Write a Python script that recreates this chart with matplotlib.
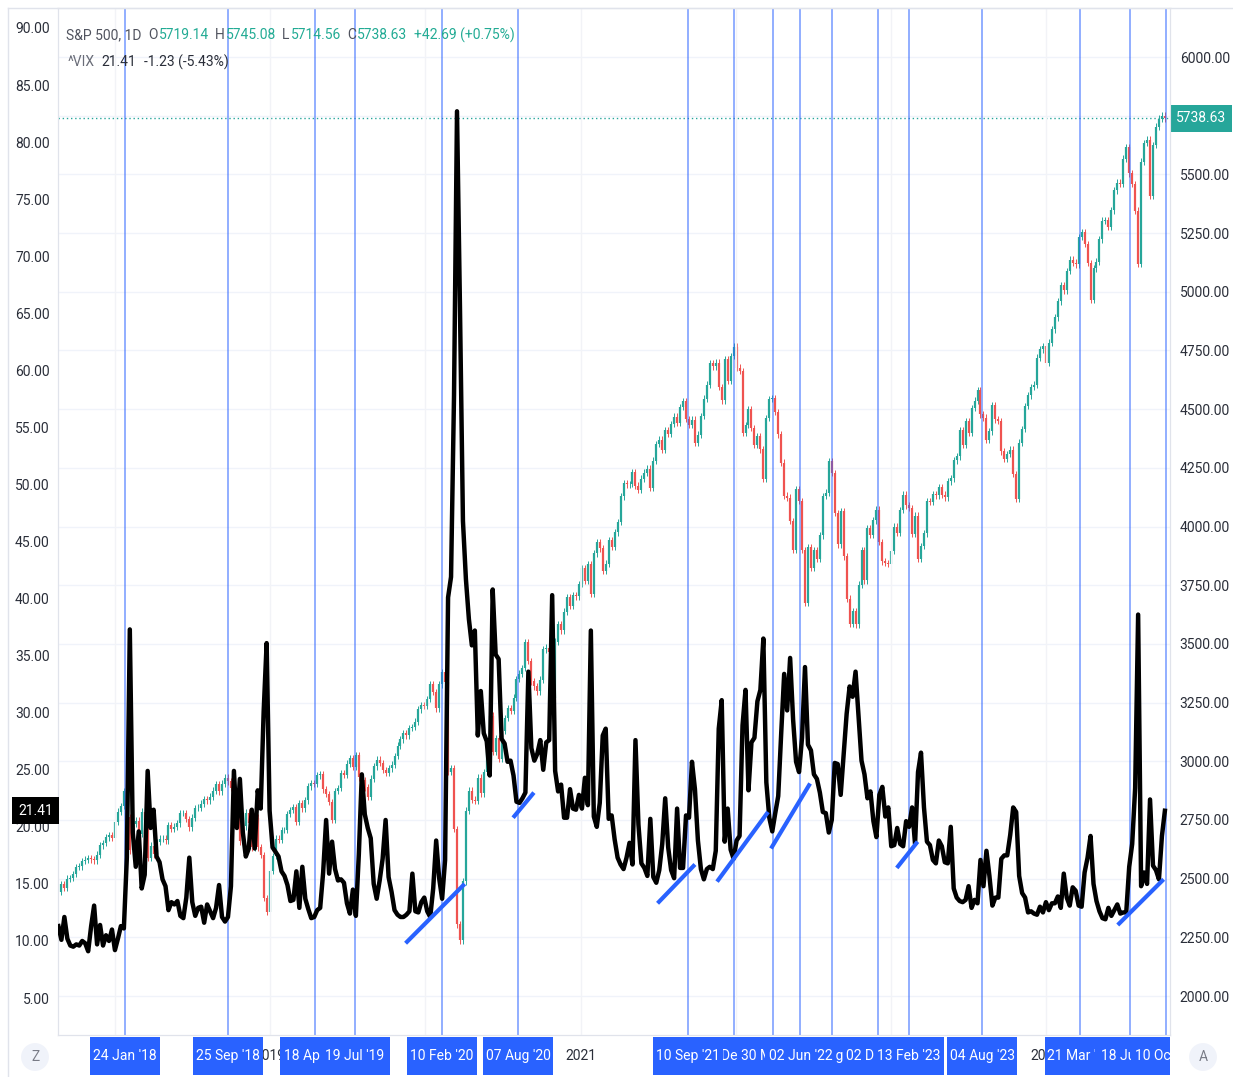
import numpy as np
import pandas as pd
import matplotlib
matplotlib.use('Agg')
import matplotlib.pyplot as plt
import matplotlib.dates as mdates
import matplotlib.transforms as mtransforms
from matplotlib.patches import Rectangle
from matplotlib.lines import Line2D

plt.rcParams['font.family'] = ['Roboto', 'DejaVu Sans']
FS = 10

# ---- weekly values (week starting Monday) ----
vix_2017 = [11.3, 10.1, 12.1, 10.2, 9.6, 9.5, 9.7, 9.6, 10.0, 9.8, 9.1, 11.3, 13.1, 9.7, 11.4,
            9.6, 10.5, 10.0, 11.0]
vix_2018 = [9.2, 10.2, 11.3, 11.1, 17.3, 37.3, 19.5, 16.5, 19.6, 14.6, 15.8, 24.9, 19.9,
            21.5, 17.4, 16.9, 15.4, 14.8, 12.7, 13.4, 13.2, 13.5, 12.2, 12.0, 13.8, 17.3,
            13.4, 12.2, 12.9, 13.0, 11.6, 13.2, 12.6, 12.0, 12.9, 14.9, 12.1, 11.7, 12.1,
            14.8, 24.9, 19.9, 24.2, 19.5, 17.4, 18.1, 21.5, 18.1, 23.2, 21.6, 30.1, 36.1, 21.4]
vix_2019 = [18.2, 17.8, 17.4, 16.1, 15.7, 14.9, 13.5, 13.6, 16.1, 12.9, 16.5, 13.7,
            12.8, 12.0, 12.1, 12.7, 12.9, 16.0, 20.6, 15.9, 18.7, 16.3, 15.3, 15.4, 15.1,
            13.3, 12.4, 14.5, 12.2, 17.6, 24.6, 21.1, 19.9, 19.0, 15.0, 13.7, 15.3, 17.2,
            20.6, 15.6, 14.3, 12.7, 12.3, 12.1, 12.1, 12.3, 12.6, 15.9, 12.6, 12.5, 13.4, 13.8]
vix_2020 = [12.6, 12.1, 14.6, 18.8, 15.5, 13.7, 17.1, 40.1, 41.9, 57.8, 82.7, 65.5, 46.8,
            41.7, 38.2, 35.9, 37.2, 28.0, 31.9, 28.2, 27.5, 24.5, 40.8, 35.1, 34.7, 27.7,
            27.3, 25.7, 25.8, 24.5, 22.2, 22.1, 22.5, 23.0, 33.6, 26.9, 25.8, 26.4, 27.6,
            25.0, 27.4, 27.6, 40.3, 24.9, 23.1, 23.7, 20.8, 20.8, 23.3, 21.6, 21.5, 22.8]
vix_2021 = [21.6, 24.3, 21.9, 37.2, 20.9, 20.0, 22.1, 28.0, 28.6, 20.7, 21.0, 18.9, 17.3,
            16.7, 16.3, 17.3, 18.6, 16.7, 27.6, 20.2, 16.8, 16.4, 15.7, 20.7, 15.6, 15.1,
            16.2, 18.5, 22.5, 18.2, 16.2, 15.5, 21.6, 16.4, 16.4, 21.0, 20.8, 25.7, 23.3,
            18.8, 16.3, 15.4, 16.3, 16.5, 16.3, 17.9, 28.6, 31.1, 18.7, 21.6, 18.0, 17.2]
vix_2022 = [18.8, 19.2, 28.9, 32.0, 23.2, 27.4, 27.8, 31.0, 32.0, 36.5, 23.9, 20.8, 19.6,
            21.2, 22.7, 28.2, 33.4, 30.2, 34.8, 29.4, 25.7, 24.8, 27.8, 34.0, 27.2, 26.7,
            24.6, 24.2, 23.0, 21.3, 21.2, 19.5, 20.6, 25.6, 25.5, 22.8, 26.3, 29.9, 32.3,
            31.4, 33.6, 29.7, 25.8, 24.6, 22.5, 23.1, 20.5, 19.1, 22.8, 23.5, 20.9, 21.7]
vix_2023 = [18.3, 18.4, 19.9, 18.5, 18.3, 20.5, 20.0, 21.7, 18.5, 24.8, 26.5, 21.7, 18.7,
            18.4, 17.1, 16.8, 18.8, 18.3, 16.9, 16.8, 20.0, 14.6, 13.8, 13.5, 13.4, 13.6,
            14.8, 12.9, 13.6, 13.3, 17.1, 14.8, 17.9, 15.7, 13.1, 13.8, 13.8, 17.2, 17.5,
            17.5, 19.3, 21.7, 21.3, 15.7, 14.2, 13.8, 12.5, 12.6, 12.4, 12.3, 13.0, 12.5]
vix_2024 = [13.4, 12.7, 13.3, 13.3, 13.9, 12.9, 15.9, 13.8, 13.1, 14.7, 14.4, 13.1, 13.0,
            16.0, 17.3, 19.2, 15.0, 13.5, 12.6, 12.0, 11.9, 12.9, 12.2, 12.7, 13.2, 12.4,
            12.5, 12.5, 16.5, 18.5, 23.4, 38.6, 14.8, 16.0, 15.0, 22.4, 16.6, 16.2, 15.4,
            19.2, 21.41]

spx_2017 = [2443, 2477, 2461, 2500, 2502, 2519, 2549, 2553, 2575, 2581, 2587, 2582, 2578,
            2602, 2642, 2652, 2676, 2684, 2674]
spx_2018 = [2743, 2786, 2810, 2873, 2762, 2620, 2732, 2747, 2691, 2786, 2752, 2588, 2641,
            2604, 2656, 2670, 2670, 2663, 2728, 2713, 2721, 2735, 2779, 2780, 2755, 2718,
            2760, 2801, 2802, 2819, 2840, 2833, 2850, 2875, 2902, 2872, 2905, 2930, 2914,
            2886, 2767, 2768, 2659, 2723, 2781, 2736, 2633, 2760, 2633, 2600, 2417, 2360, 2532]
spx_2019 = [2596, 2671, 2665, 2707, 2708, 2776, 2793, 2804, 2743, 2822, 2800, 2834,
            2893, 2907, 2905, 2940, 2946, 2881, 2860, 2826, 2752, 2873, 2887, 2950, 2942,
            2990, 3014, 2977, 3026, 2932, 2919, 2889, 2847, 2926, 2979, 3007, 2992, 2962,
            2952, 2970, 2986, 3023, 3067, 3093, 3120, 3110, 3141, 3146, 3169, 3221, 3240, 3235]
spx_2020 = [3265, 3330, 3295, 3226, 3328, 3380, 3338, 2954, 2972, 2711, 2305, 2237, 2489,
            2790, 2875, 2837, 2831, 2930, 2864, 2955, 3044, 3194, 3041, 3098, 3009, 3130,
            3185, 3225, 3216, 3271, 3351, 3373, 3397, 3508, 3427, 3341, 3319, 3298, 3348,
            3477, 3484, 3465, 3270, 3510, 3585, 3558, 3638, 3699, 3663, 3709, 3703, 3756]
spx_2021 = [3824, 3768, 3841, 3714, 3886, 3934, 3907, 3811, 3842, 3943, 3913, 3975, 4020,
            4129, 4185, 4180, 4181, 4233, 4174, 4156, 4204, 4230, 4247, 4166, 4281, 4352,
            4370, 4327, 4412, 4395, 4437, 4468, 4442, 4509, 4535, 4459, 4433, 4455, 4357,
            4391, 4471, 4545, 4605, 4697, 4683, 4698, 4595, 4538, 4712, 4620, 4726, 4766]
spx_2022 = [4677, 4663, 4398, 4432, 4501, 4419, 4349, 4385, 4329, 4204, 4463, 4543, 4546,
            4488, 4393, 4272, 4132, 4123, 4023, 3901, 4158, 4109, 3901, 3675, 3912, 3825,
            3899, 3863, 3962, 4130, 4145, 4280, 4228, 4058, 3924, 4067, 3873, 3693, 3586,
            3639, 3583, 3753, 3901, 3771, 3993, 3965, 4026, 4072, 3934, 3852, 3845, 3840]
spx_2023 = [3895, 3999, 3973, 4071, 4136, 4090, 4079, 3970, 4046, 3862, 3917, 3971, 4109,
            4105, 4138, 4133, 4169, 4136, 4124, 4192, 4205, 4282, 4299, 4410, 4348, 4450,
            4399, 4505, 4536, 4582, 4478, 4464, 4370, 4406, 4516, 4457, 4450, 4320, 4288,
            4309, 4328, 4224, 4117, 4358, 4415, 4514, 4559, 4595, 4604, 4719, 4755, 4770]
spx_2024 = [4697, 4784, 4840, 4891, 4959, 5027, 5006, 5089, 5137, 5124, 5117, 5234, 5254,
            5204, 5123, 4967, 5100, 5128, 5223, 5303, 5305, 5278, 5347, 5432, 5465, 5460,
            5567, 5615, 5505, 5459, 5346, 5120, 5554, 5634, 5648, 5408, 5626, 5703, 5738,
            5751, 5738.63]

vix = vix_2017 + vix_2018 + vix_2019 + vix_2020 + vix_2021 + vix_2022 + vix_2023 + vix_2024
spx = spx_2017 + spx_2018 + spx_2019 + spx_2020 + spx_2021 + spx_2022 + spx_2023 + spx_2024
assert len(vix) == len(spx)
dates = pd.date_range('2017-08-21', periods=len(vix), freq='7D')

# marked dates (vertical lines + labels)
mark_dates = ['2018-01-24', '2018-09-25', '2019-04-18', '2019-07-19', '2020-02-10',
              '2020-08-07', '2021-09-10', '2021-12-29', '2022-03-30', '2022-06-02',
              '2022-08-16', '2022-12-02', '2023-02-13', '2023-08-04', '2024-03-21',
              '2024-07-18', '2024-10-10']
mark_labels = ["24 Jan '18", "25 Sep '18", "18 Apr '19", "19 Jul '19", "10 Feb '20",
               "07 Aug '20", "10 Sep '21", "29 Dec '21", "30 Mar '22", "02 Jun '22",
               "16 Aug '22", "02 Dec '22", "13 Feb '23", "04 Aug '23", "21 Mar '24",
               "18 Jul '24", "10 Oct '24"]
mark_layer = [1, 1, 1, 2, 1, 1, 2, 1, 3, 5, 4, 6, 7, 8, 1, 2, 3]

# blue trend segments on VIX lows
trend_d0 = ['2019-11-16', '2020-07-26', '2021-07-01', '2021-11-18', '2022-03-25',
            '2023-01-15', '2024-06-18']
trend_v0 = [9.8, 20.8, 13.3, 15.2, 18.1, 16.4, 11.4]
trend_d1 = ['2020-04-03', '2020-09-13', '2021-09-27', '2022-03-18', '2022-06-25',
            '2023-03-05', '2024-10-04']
trend_v1 = [15.0, 23.0, 16.7, 21.3, 23.8, 18.7, 15.4]

years = [2018, 2019, 2020, 2021, 2022, 2023, 2024]
year_labels_shown = [2019, 2021, 2024]   # the others sit fully under the date boxes

UP, DN = '#26a69a', '#ef5350'
BLUE = '#2962ff'
TXT = '#2a2e39'
GREY = '#50535e'
TEAL = '#22ab94'

W, H = 1233, 1077
fig = plt.figure(figsize=(W / 100, H / 100), dpi=100)


def px(x0, y0, x1, y1):
    return [x0 / W, 1 - y1 / H, (x1 - x0) / W, (y1 - y0) / H]


ax = fig.add_axes(px(58, 8, 1170, 1035))
ax2 = ax.twinx()
ax.set_zorder(ax2.get_zorder() + 1)
ax.patch.set_visible(False)

xmin, xmax = pd.Timestamp('2017-08-20'), pd.Timestamp('2024-10-19')
ax.set_xlim(xmin, xmax)
ax.set_ylim(1.76, 91.75)
ax2.set_ylim(1834, 6209)

# S&P candles (open = previous close)
close = np.array(spx, dtype=float)
opn = np.r_[close[0], close[:-1]]
col = np.where(close >= opn, UP, DN)
lo = np.minimum(opn, close)
hi = np.maximum(opn, close)
ax2.vlines(dates, lo - 14, hi + 14, colors=col, lw=0.7, zorder=2)
ax2.vlines(dates, lo, hi, colors=col, lw=1.6, zorder=2)
ax2.axhline(spx[-1], color=UP, ls=(0, (1, 2)), lw=1.0, zorder=1)

# vertical markers, VIX, trend segments
for d in mark_dates:
    ax.axvline(pd.Timestamp(d), color=BLUE, alpha=0.55, lw=1.3, zorder=2)
ax.plot(dates, vix, color='black', lw=3.2, solid_joinstyle='round', zorder=4)
for d0, v0, d1, v1 in zip(trend_d0, trend_v0, trend_d1, trend_v1):
    ax.plot([pd.Timestamp(d0), pd.Timestamp(d1)], [v0, v1], color=BLUE, lw=3.0,
            solid_capstyle='butt', zorder=5)

# axes styling
ax.set_yticks(np.arange(5, 91, 5))
ax.set_yticklabels([f'{v:.2f}' for v in np.arange(5, 91, 5)])
ax.tick_params(axis='y', length=0, pad=6, labelsize=FS, colors=TXT)
spx_ticks = np.arange(2000, 6001, 250)
ax2.set_yticks(spx_ticks)
# the 5750 label sits under the last-price tag in the reference
ax2.set_yticklabels(['' if v == 5750 else f'{v:.2f}' for v in spx_ticks])
ax2.tick_params(axis='y', length=0, pad=7, labelsize=FS, colors=TXT)
ax.set_xticks([pd.Timestamp(f'{y}-01-01') for y in years])
ax.tick_params(axis='x', length=0, labelbottom=False)
ax.grid(axis='x', color='#f2f3f7', lw=1)
ax2.grid(axis='y', color='#f0f3fa', lw=1)
for a in (ax, ax2):
    for s in a.spines.values():
        s.set_color('#e0e3eb')

# last value tags
ax.text(-5 / 1112, vix[-1], f'{vix[-1]:.2f}',
        transform=mtransforms.blended_transform_factory(ax.transAxes, ax.transData),
        ha='right', va='center', color='white', fontsize=FS,
        bbox=dict(boxstyle='square,pad=0.45', fc='black', ec='none'))
ax2.text(1 + 6 / 1112, spx[-1], f'{spx[-1]:.2f}',
         transform=mtransforms.blended_transform_factory(ax2.transAxes, ax2.transData),
         ha='left', va='center', color='white', fontsize=FS,
         bbox=dict(boxstyle='square,pad=0.45', fc=UP, ec='none'))


# header legend, pieces chained left to right
def chain(x, y, pieces):
    prev = fig.text(x / W, 1 - y / H, pieces[0][0], color=pieces[0][1], fontsize=FS,
                    ha='left', va='center')
    for s, c, gap in pieces[1:]:
        prev = ax.annotate(s, xy=(1, 0.5), xycoords=prev, xytext=(gap, 0),
                           textcoords='offset pixels', color=c, fontsize=FS,
                           ha='left', va='center', annotation_clip=False, zorder=10)


chain(66, 35, [('S&P 500, 1D', GREY), ('O', GREY, 7), ('5719.14', TEAL, 1),
               ('H', GREY, 6), ('5745.08', TEAL, 1), ('L', GREY, 6), ('5714.56', TEAL, 1),
               ('C', GREY, 6), ('5738.63', TEAL, 1), ('+42.69 (+0.75%)', TEAL, 7)])
chain(68, 62, [('^VIX', '#6a6d78'), ('21.41', TXT, 6), ('-1.23 (-5.43%)', TXT, 8)])

# bottom date strip
axb = fig.add_axes(px(58, 1035, 1170, 1077), sharex=ax)
axb.set_xlim(xmin, xmax)
axb.set_ylim(0, 1)
axb.axis('off')
tr = axb.get_xaxis_transform()
span_days = (xmax - xmin).days
half = 35 * span_days / 1112.0
for y in year_labels_shown:
    axb.text(mdates.date2num(pd.Timestamp(f'{y}-01-01')), 0.5, str(y), transform=tr,
             ha='center', va='center', color=TXT, fontsize=FS, zorder=1, clip_on=True)
for d, lab, lay in zip(mark_dates, mark_labels, mark_layer):
    xn = mdates.date2num(pd.Timestamp(d))
    axb.add_patch(Rectangle((xn - half, 0.05), 2 * half, 0.9, transform=tr, fc=BLUE, ec='none',
                            zorder=10 + 2 * lay, clip_on=True))
    axb.text(xn, 0.5, lab, transform=tr, ha='center', va='center', color='white',
             fontsize=FS, zorder=11 + 2 * lay, clip_on=True)

for x, s in [(35, 'Z'), (1203, 'A')]:
    fig.text(x / W, 1 - 1057 / H, s, ha='center', va='center', color='#787b86', fontsize=FS,
             bbox=dict(boxstyle='circle,pad=0.5', fc='#f0f3fa', ec='none'))

# outer frame lines
fig.add_artist(Line2D([8 / W, 1], [1 - 8 / H, 1 - 8 / H], color='#e0e3eb', lw=1))
fig.add_artist(Line2D([8 / W, 8 / W], [0, 1 - 8 / H], color='#e0e3eb', lw=1))

fig.savefig('out.png', dpi=100, facecolor='white')
